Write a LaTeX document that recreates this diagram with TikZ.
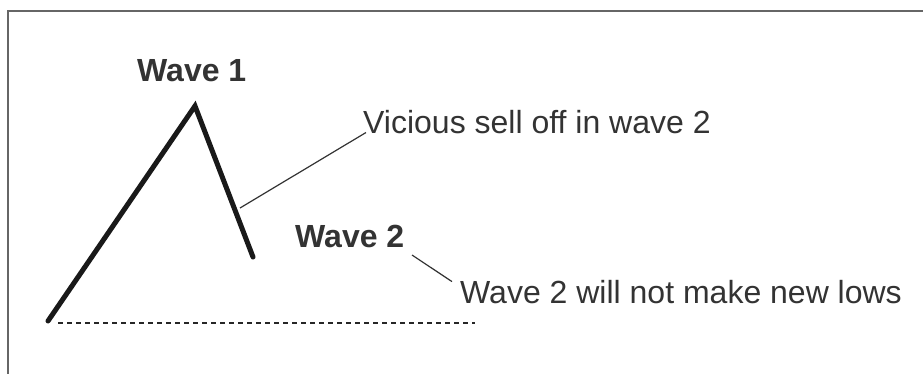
\documentclass[tikz,border=0pt]{standalone}
\usepackage{fontspec}
\setmainfont{Liberation Sans}
\definecolor{txt}{HTML}{333333}
\definecolor{frame}{HTML}{666666}
\tikzset{
  lbl/.style={inner sep=0pt, anchor=base west, text=txt, font=\fontsize{32}{38}\selectfont},
  blbl/.style={lbl, font=\fontsize{32}{38}\selectfont\bfseries},
  wave/.style={line width=5pt, line join=miter, line cap=round, black!90},
  leader/.style={line width=1.2pt, black!80},
  lowline/.style={line width=2pt, dash pattern=on 5pt off 4pt, black!85}
}
\begin{document}
\begin{tikzpicture}[x=1pt,y=-1pt]
\useasboundingbox (0,0) rectangle (923,374);
\fill[white] (0,0) rectangle (923,374);
\draw[frame, line width=2pt] (8,374) -- (8,11) -- (923,11);
% wave points
\coordinate (start) at (48,321);
\coordinate (peak) at (195,106);
\coordinate (end) at (253,257);
\coordinate (lowend) at (475,323);
\coordinate (lead1) at (240,208);
\coordinate (lead2) at (412,255);
% labels
\node[blbl] (w1) at (137,82) {Wave 1};
\node[lbl] (vic) at (363,134) {Vicious sell off in wave 2};
\node[blbl] (w2) at (295,247) {Wave 2};
\node[lbl] (nl) at (460,303) {Wave 2 will not make new lows};
% lines
\draw[lowline] (start) ++(10,2) -- (lowend);
\draw[wave] (start) -- (peak) -- (end);
\draw[leader] (lead1) -- ([xshift=3pt,yshift=2pt]vic.south west);
\draw[leader] (lead2) -- ([xshift=-8pt,yshift=-2pt]nl.north west);
\end{tikzpicture}
\end{document}
